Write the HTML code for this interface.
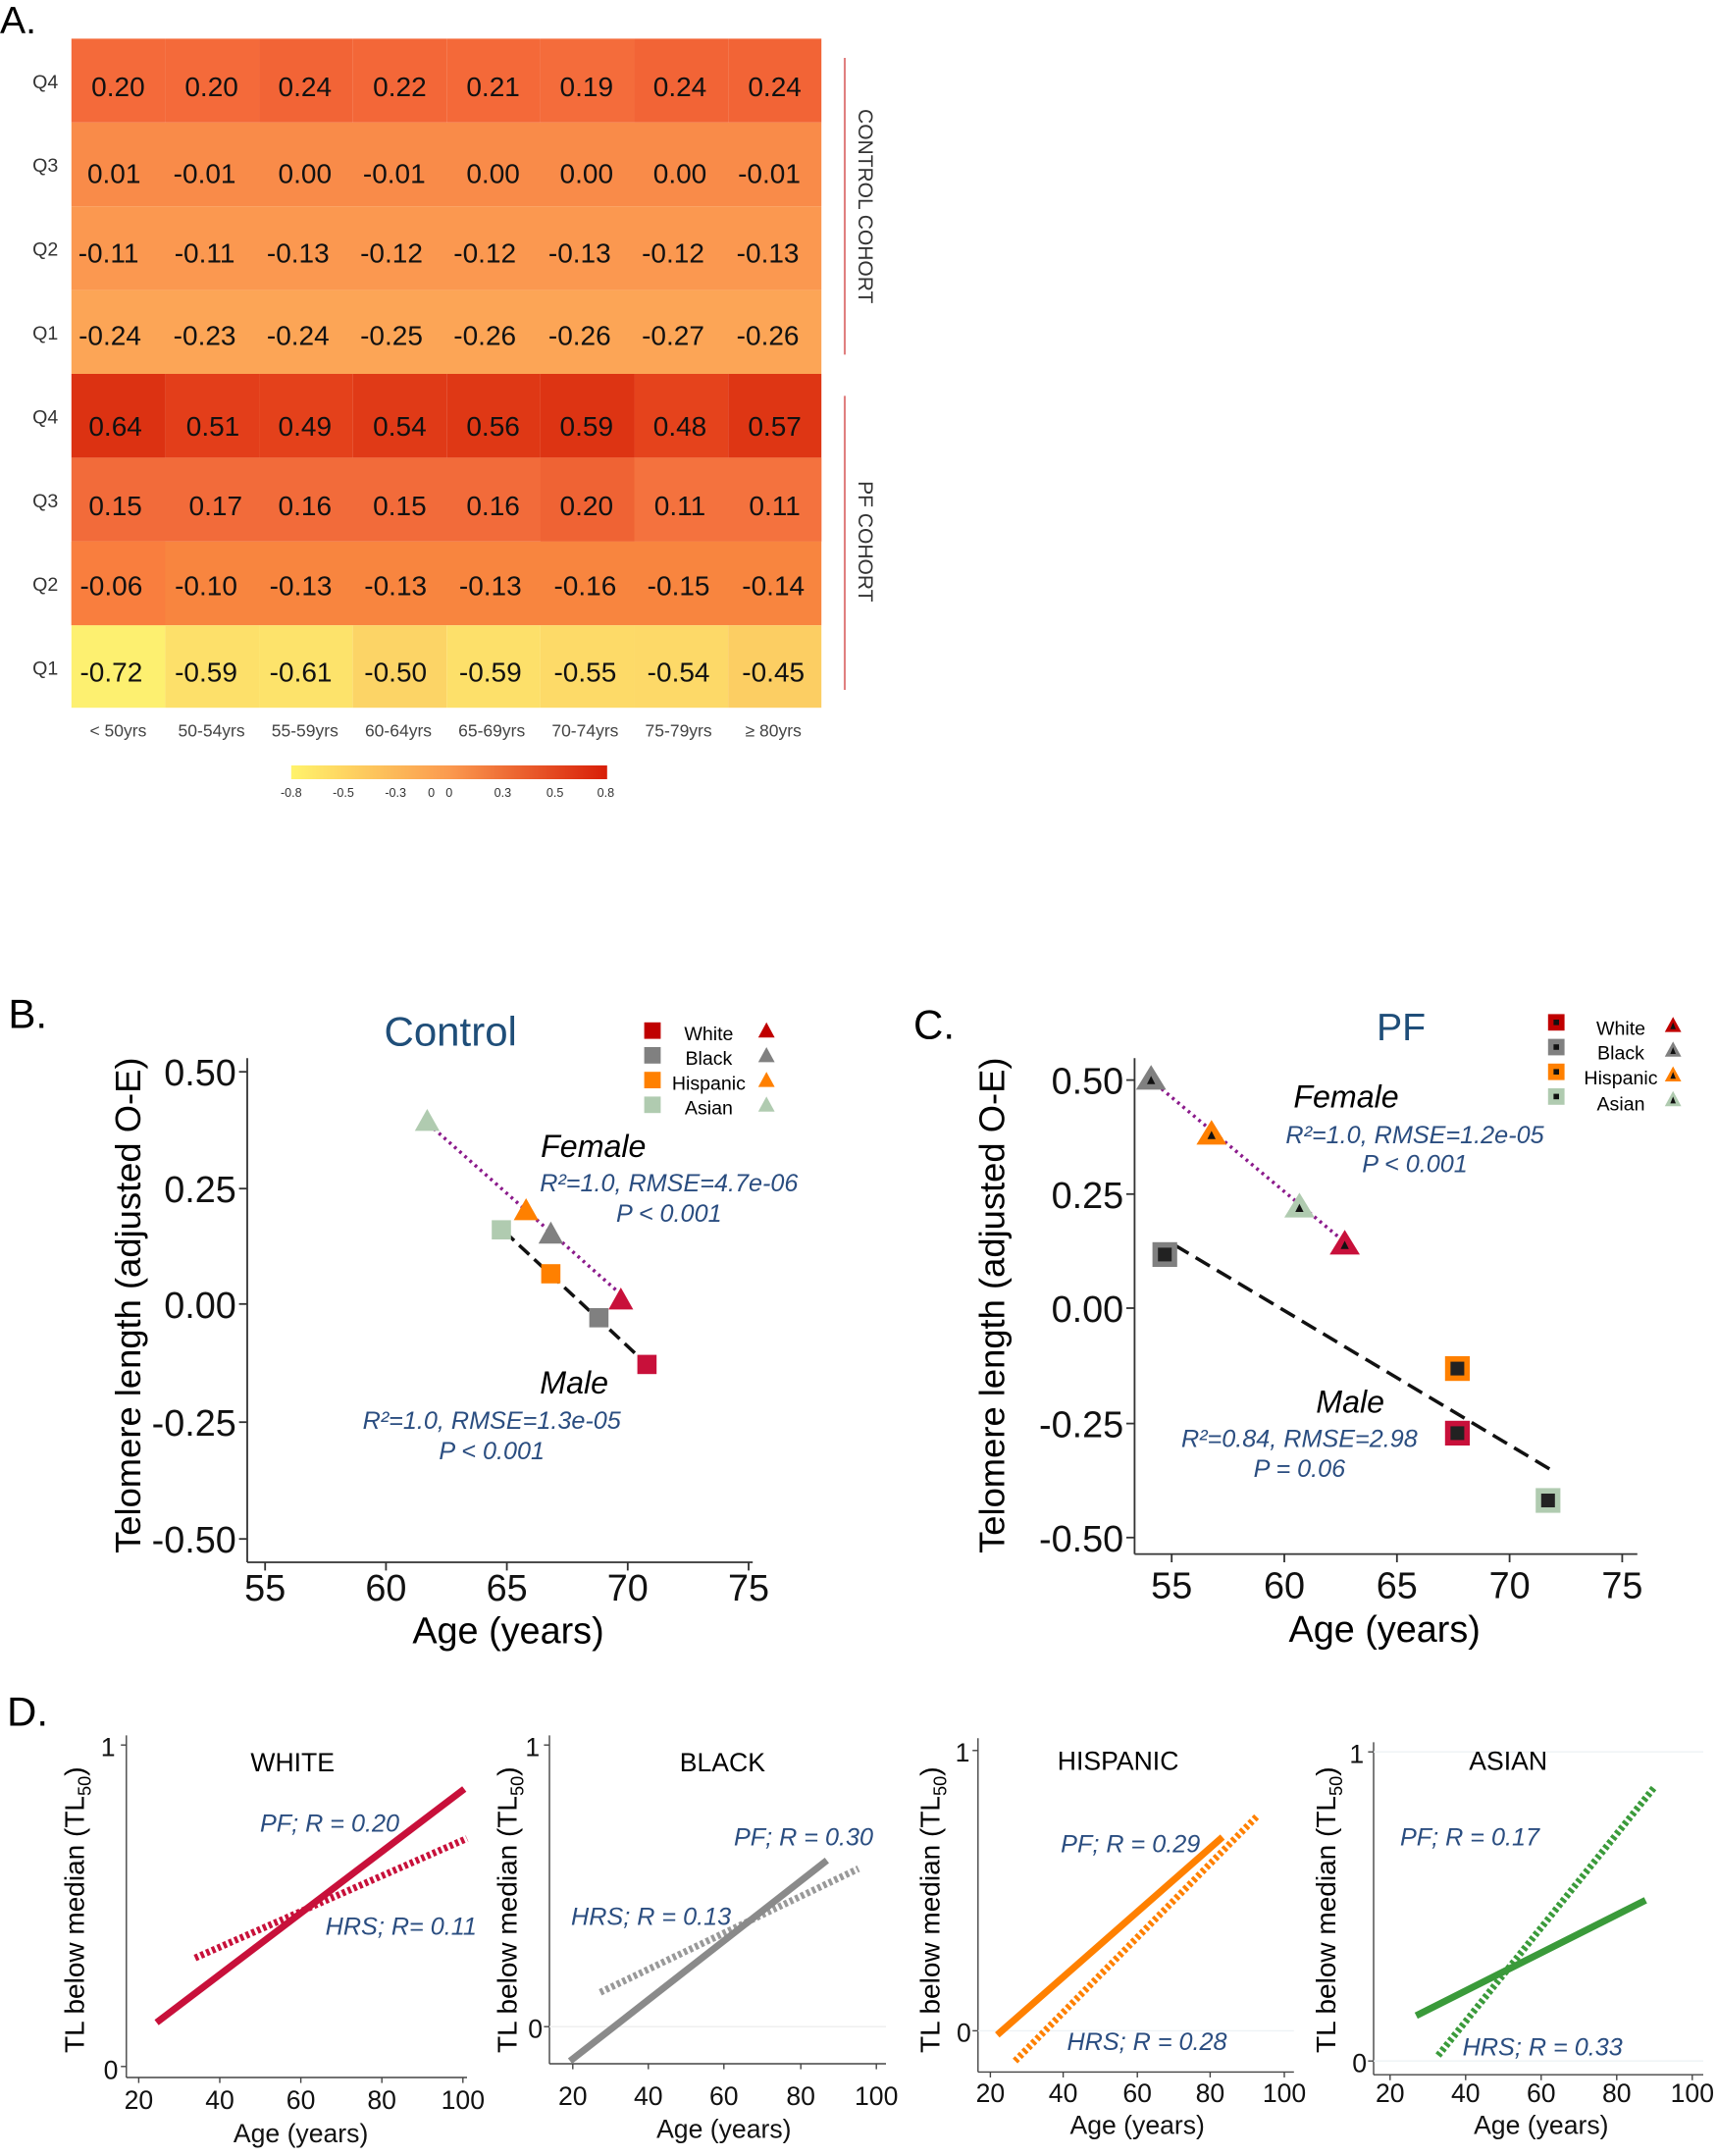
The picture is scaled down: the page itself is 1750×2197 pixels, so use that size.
<!DOCTYPE html>
<html><head><meta charset="utf-8"><style>
html,body{margin:0;padding:0;background:#fff}
svg{display:block}
text{font-family:"Liberation Sans",sans-serif}
.hm{font-size:20px;text-anchor:middle;fill:#111}
.tk{font-size:27px;text-anchor:end;fill:#111}
.tx{font-size:27px;text-anchor:middle;fill:#111}
.st{font-family:"Liberation Sans",sans-serif;font-style:italic;fill:#2a4d80;font-size:18px;text-anchor:middle}
.dt{font-size:19px;text-anchor:middle;fill:#111}
</style></head><body>
<svg width="1750" height="2197" viewBox="0 0 1250 1569" xmlns="http://www.w3.org/2000/svg">
<defs>
<linearGradient id="cb" x1="0" x2="1" y1="0" y2="0">
<stop offset="0" stop-color="#fff36b"/><stop offset="0.5" stop-color="#fb9a4f"/><stop offset="1" stop-color="#d81e08"/>
</linearGradient>
</defs>
<text x="0" y="24" font-size="28">A.</text>
<!-- heatmap rows: height 60.9 -->
<g>
<rect x="52" y="28" width="68.3" height="61" fill="#f46a3a"/><rect x="120.3" y="28" width="68.3" height="61" fill="#f46a3a"/><rect x="188.6" y="28" width="68.3" height="61" fill="#f26436"/><rect x="256.9" y="28" width="68.3" height="61" fill="#f36738"/><rect x="325.2" y="28" width="68.3" height="61" fill="#f46939"/><rect x="393.5" y="28" width="68.3" height="61" fill="#f46c3b"/><rect x="461.8" y="28" width="68.3" height="61" fill="#f26436"/><rect x="530.1" y="28" width="67.9" height="61" fill="#f26436"/>
<rect x="52" y="89" width="546" height="61" fill="#f98b49"/>
<rect x="52" y="150" width="546" height="61" fill="#fb9850"/>
<rect x="52" y="211" width="546" height="61" fill="#fca556"/>
<rect x="52" y="272" width="68.3" height="61" fill="#dc3212"/><rect x="120.3" y="272" width="68.3" height="61" fill="#e33e1a"/><rect x="188.6" y="272" width="68.3" height="61" fill="#e4411b"/><rect x="256.9" y="272" width="68.3" height="61" fill="#e03a17"/><rect x="325.2" y="272" width="68.3" height="61" fill="#df3815"/><rect x="393.5" y="272" width="68.3" height="61" fill="#dd3413"/><rect x="461.8" y="272" width="68.3" height="61" fill="#e5431c"/><rect x="530.1" y="272" width="67.9" height="61" fill="#de3614"/>
<rect x="52" y="333" width="546" height="61" fill="#f26b3a"/><rect x="393.5" y="333" width="68.3" height="61" fill="#ef6334"/><rect x="461.8" y="333" width="136.2" height="61" fill="#f4723e"/>
<rect x="52" y="394" width="546" height="61" fill="#f8853f"/><rect x="52" y="394" width="68.3" height="61" fill="#f97e3e"/>
<rect x="52" y="455" width="68.3" height="60" fill="#fdf070"/><rect x="120.3" y="455" width="68.3" height="60" fill="#fde06a"/><rect x="188.6" y="455" width="68.3" height="60" fill="#fde36b"/><rect x="256.9" y="455" width="68.3" height="60" fill="#fcd466"/><rect x="325.2" y="455" width="68.3" height="60" fill="#fde06a"/><rect x="393.5" y="455" width="68.3" height="60" fill="#fdda68"/><rect x="461.8" y="455" width="68.3" height="60" fill="#fdd968"/><rect x="530.1" y="455" width="67.9" height="60" fill="#fcce63"/>
</g>
<g font-size="14" fill="#333" text-anchor="middle">
<text x="33" y="64">Q4</text><text x="33" y="125">Q3</text><text x="33" y="186">Q2</text><text x="33" y="247">Q1</text>
<text x="33" y="308">Q4</text><text x="33" y="369">Q3</text><text x="33" y="430">Q2</text><text x="33" y="491">Q1</text>
</g>
<g class="hm">
<text x="86" y="70">0.20</text><text x="154" y="70">0.20</text><text x="222" y="70">0.24</text><text x="291" y="70">0.22</text><text x="359" y="70">0.21</text><text x="427" y="70">0.19</text><text x="495" y="70">0.24</text><text x="564" y="70">0.24</text>
<text x="83" y="133">0.01</text><text x="149" y="133">-0.01</text><text x="222" y="133">0.00</text><text x="287" y="133">-0.01</text><text x="359" y="133">0.00</text><text x="427" y="133">0.00</text><text x="495" y="133">0.00</text><text x="560" y="133">-0.01</text>
<text x="79" y="191">-0.11</text><text x="149" y="191">-0.11</text><text x="217" y="191">-0.13</text><text x="285" y="191">-0.12</text><text x="353" y="191">-0.12</text><text x="422" y="191">-0.13</text><text x="490" y="191">-0.12</text><text x="559" y="191">-0.13</text>
<text x="80" y="251">-0.24</text><text x="149" y="251">-0.23</text><text x="217" y="251">-0.24</text><text x="285" y="251">-0.25</text><text x="353" y="251">-0.26</text><text x="422" y="251">-0.26</text><text x="490" y="251">-0.27</text><text x="559" y="251">-0.26</text>
<text x="84" y="317">0.64</text><text x="155" y="317">0.51</text><text x="222" y="317">0.49</text><text x="291" y="317">0.54</text><text x="359" y="317">0.56</text><text x="427" y="317">0.59</text><text x="495" y="317">0.48</text><text x="564" y="317">0.57</text>
<text x="84" y="375">0.15</text><text x="157" y="375">0.17</text><text x="222" y="375">0.16</text><text x="291" y="375">0.15</text><text x="359" y="375">0.16</text><text x="427" y="375">0.20</text><text x="495" y="375">0.11</text><text x="564" y="375">0.11</text>
<text x="81" y="433">-0.06</text><text x="150" y="433">-0.10</text><text x="219" y="433">-0.13</text><text x="288" y="433">-0.13</text><text x="357" y="433">-0.13</text><text x="426" y="433">-0.16</text><text x="494" y="433">-0.15</text><text x="563" y="433">-0.14</text>
<text x="81" y="496">-0.72</text><text x="150" y="496">-0.59</text><text x="219" y="496">-0.61</text><text x="288" y="496">-0.50</text><text x="357" y="496">-0.59</text><text x="426" y="496">-0.55</text><text x="494" y="496">-0.54</text><text x="563" y="496">-0.45</text>
</g>
<line x1="615" y1="42" x2="615" y2="258" stroke="#e08080" stroke-width="1.5"/>
<line x1="615" y1="288" x2="615" y2="502" stroke="#e08080" stroke-width="1.5"/>
<text transform="translate(625,150) rotate(90)" font-size="15" fill="#333" text-anchor="middle">CONTROL COHORT</text>
<text transform="translate(625,394) rotate(90)" font-size="15" fill="#333" text-anchor="middle">PF COHORT</text>
<g font-size="12.5" fill="#444" text-anchor="middle">
<text x="86" y="536">&lt; 50yrs</text><text x="154" y="536">50-54yrs</text><text x="222" y="536">55-59yrs</text><text x="290" y="536">60-64yrs</text><text x="358" y="536">65-69yrs</text><text x="426" y="536">70-74yrs</text><text x="494" y="536">75-79yrs</text><text x="563" y="536">≥ 80yrs</text>
</g>
<rect x="212" y="557" width="230" height="10" fill="url(#cb)"/>
<g font-size="9" fill="#333" text-anchor="middle">
<text x="212" y="580">-0.8</text><text x="250" y="580">-0.5</text><text x="288" y="580">-0.3</text><text x="314" y="580">0</text><text x="327" y="580">0</text><text x="366" y="580">0.3</text><text x="404" y="580">0.5</text><text x="441" y="580">0.8</text>
</g>

<!-- Panel B -->
<text x="6" y="748" font-size="30">B.</text>
<text x="328" y="761" font-size="30" fill="#1f4e79" text-anchor="middle">Control</text>
<g stroke="#333" stroke-width="1.3" fill="none">
<line x1="180" y1="770" x2="180" y2="1137"/><line x1="180" y1="1137" x2="548" y2="1137"/>
<line x1="174" y1="780" x2="180" y2="780"/><line x1="174" y1="865" x2="180" y2="865"/><line x1="174" y1="949" x2="180" y2="949"/><line x1="174" y1="1035" x2="180" y2="1035"/><line x1="174" y1="1120" x2="180" y2="1120"/>
<line x1="193" y1="1137" x2="193" y2="1143"/><line x1="281" y1="1137" x2="281" y2="1143"/><line x1="369" y1="1137" x2="369" y2="1143"/><line x1="457" y1="1137" x2="457" y2="1143"/><line x1="545" y1="1137" x2="545" y2="1143"/>
</g>
<g class="tk"><text x="172" y="790">0.50</text><text x="172" y="875">0.25</text><text x="172" y="959">0.00</text><text x="172" y="1045">-0.25</text><text x="172" y="1130">-0.50</text></g>
<g class="tx"><text x="193" y="1165">55</text><text x="281" y="1165">60</text><text x="369" y="1165">65</text><text x="457" y="1165">70</text><text x="545" y="1165">75</text></g>
<text x="370" y="1196" font-size="27" text-anchor="middle">Age (years)</text>
<text transform="translate(102,950) rotate(-90)" font-size="26" text-anchor="middle">Telomere length (adjusted O-E)</text>
<line x1="312" y1="818" x2="452" y2="942" stroke="#8b1a8b" stroke-width="2.5" stroke-dasharray="2,3"/>
<line x1="367" y1="896" x2="470" y2="992" stroke="#111" stroke-width="2.5" stroke-dasharray="10,5"/>
<rect x="358" y="888" width="14" height="14" fill="#b0cbb0"/>
<rect x="394" y="920" width="14" height="14" fill="#ff8000"/>
<rect x="429" y="952" width="14" height="14" fill="#808080"/>
<rect x="464" y="986" width="14" height="14" fill="#c8103a"/>
<polygon points="311,807 302,823 320,823" fill="#b0cbb0"/>
<polygon points="383,872 374,888 392,888" fill="#ff8000"/>
<polygon points="401,889 392,905 410,905" fill="#808080"/>
<polygon points="452,937 443,953 461,953" fill="#c8103a"/>
<text x="432" y="842" font-size="23" font-style="italic" text-anchor="middle">Female</text>
<text class="st" x="487" y="867">R²=1.0, RMSE=4.7e-06</text>
<text class="st" x="487" y="889">P &lt; 0.001</text>
<text x="418" y="1014" font-size="23" font-style="italic" text-anchor="middle">Male</text>
<text class="st" x="358" y="1040">R²=1.0, RMSE=1.3e-05</text>
<text class="st" x="358" y="1062">P &lt; 0.001</text>
<g font-size="14" text-anchor="middle">
<rect x="469" y="744" width="12" height="12" fill="#c00000"/><text x="516" y="757">White</text><polygon points="558,744 552,755 564,755" fill="#c00000"/>
<rect x="469" y="762" width="12" height="12" fill="#808080"/><text x="516" y="775">Black</text><polygon points="558,762 552,773 564,773" fill="#808080"/>
<rect x="469" y="780" width="12" height="12" fill="#ff8000"/><text x="516" y="793">Hispanic</text><polygon points="558,780 552,791 564,791" fill="#ff8000"/>
<rect x="469" y="798" width="12" height="12" fill="#b0cbb0"/><text x="516" y="811">Asian</text><polygon points="558,798 552,809 564,809" fill="#b0cbb0"/>
</g>

<!-- Panel C -->
<text x="665" y="756" font-size="30">C.</text>
<text x="1020" y="757" font-size="28" fill="#1f4e79" text-anchor="middle">PF</text>
<g stroke="#333" stroke-width="1.3" fill="none">
<line x1="826" y1="770" x2="826" y2="1131"/><line x1="826" y1="1131" x2="1192" y2="1131"/>
<line x1="820" y1="786" x2="826" y2="786"/><line x1="820" y1="869" x2="826" y2="869"/><line x1="820" y1="952" x2="826" y2="952"/><line x1="820" y1="1036" x2="826" y2="1036"/><line x1="820" y1="1119" x2="826" y2="1119"/>
<line x1="853" y1="1131" x2="853" y2="1137"/><line x1="935" y1="1131" x2="935" y2="1137"/><line x1="1017" y1="1131" x2="1017" y2="1137"/><line x1="1099" y1="1131" x2="1099" y2="1137"/><line x1="1181" y1="1131" x2="1181" y2="1137"/>
</g>
<g class="tk"><text x="818" y="796">0.50</text><text x="818" y="879">0.25</text><text x="818" y="962">0.00</text><text x="818" y="1046">-0.25</text><text x="818" y="1129">-0.50</text></g>
<g class="tx"><text x="853" y="1163">55</text><text x="935" y="1163">60</text><text x="1017" y="1163">65</text><text x="1099" y="1163">70</text><text x="1181" y="1163">75</text></g>
<text x="1008" y="1195" font-size="27" text-anchor="middle">Age (years)</text>
<text transform="translate(731,950) rotate(-90)" font-size="26" text-anchor="middle">Telomere length (adjusted O-E)</text>
<line x1="838" y1="786" x2="979" y2="904" stroke="#8b1a8b" stroke-width="2.5" stroke-dasharray="2,3"/>
<line x1="855" y1="906" x2="1133" y2="1072" stroke="#111" stroke-width="2.5" stroke-dasharray="12,6"/>
<g>
<rect x="839" y="904" width="18" height="18" fill="#808080"/><rect x="843" y="908" width="10" height="10" fill="#222"/>
<rect x="1052" y="987" width="18" height="18" fill="#ff8000"/><rect x="1056" y="991" width="10" height="10" fill="#222"/>
<rect x="1052" y="1034" width="18" height="18" fill="#c8103a"/><rect x="1056" y="1038" width="10" height="10" fill="#222"/>
<rect x="1118" y="1083" width="18" height="18" fill="#b0cbb0"/><rect x="1122" y="1087" width="10" height="10" fill="#222"/>
<polygon points="838,775 827,793 849,793" fill="#808080"/><polygon points="838,783 835,789 841,789" fill="#111"/>
<polygon points="882,815 871,833 893,833" fill="#ff8000"/><polygon points="882,823 879,829 885,829" fill="#111"/>
<polygon points="946,868 935,886 957,886" fill="#b0cbb0"/><polygon points="946,876 943,882 949,882" fill="#111"/>
<polygon points="979,895 968,913 990,913" fill="#c8103a"/><polygon points="979,903 976,909 982,909" fill="#111"/>
</g>
<text x="980" y="806" font-size="23" font-style="italic" text-anchor="middle">Female</text>
<text class="st" x="1030" y="832">R²=1.0, RMSE=1.2e-05</text>
<text class="st" x="1030" y="853">P &lt; 0.001</text>
<text x="983" y="1028" font-size="23" font-style="italic" text-anchor="middle">Male</text>
<text class="st" x="946" y="1053">R²=0.84, RMSE=2.98</text>
<text class="st" x="946" y="1075">P = 0.06</text>
<g font-size="14" text-anchor="middle">
<rect x="1127" y="738" width="12" height="12" fill="#c00000"/><rect x="1131" y="742" width="4" height="4" fill="#111"/><text x="1180" y="753">White</text><polygon points="1218,740 1212,751 1224,751" fill="#c00000"/><polygon points="1218,744 1216,749 1220,749" fill="#111"/>
<rect x="1127" y="756" width="12" height="12" fill="#808080"/><rect x="1131" y="760" width="4" height="4" fill="#111"/><text x="1180" y="771">Black</text><polygon points="1218,758 1212,769 1224,769" fill="#808080"/><polygon points="1218,762 1216,767 1220,767" fill="#111"/>
<rect x="1127" y="774" width="12" height="12" fill="#ff8000"/><rect x="1131" y="778" width="4" height="4" fill="#111"/><text x="1180" y="789">Hispanic</text><polygon points="1218,776 1212,787 1224,787" fill="#ff8000"/><polygon points="1218,780 1216,785 1220,785" fill="#111"/>
<rect x="1127" y="792" width="12" height="12" fill="#b0cbb0"/><rect x="1131" y="796" width="4" height="4" fill="#111"/><text x="1180" y="808">Asian</text><polygon points="1218,794 1212,805 1224,805" fill="#b0cbb0"/><polygon points="1218,798 1216,803 1220,803" fill="#111"/>
</g>

<!-- Panel D -->
<text x="5" y="1256" font-size="30">D.</text>
<!-- WHITE -->
<g stroke="#444" stroke-width="1" fill="none">
<line x1="92" y1="1263" x2="92" y2="1512"/><line x1="92" y1="1512" x2="340" y2="1512"/>
<line x1="88" y1="1270" x2="92" y2="1270"/><line x1="88" y1="1504" x2="92" y2="1504"/>
<line x1="101" y1="1512" x2="101" y2="1516"/><line x1="160" y1="1512" x2="160" y2="1516"/><line x1="219" y1="1512" x2="219" y2="1516"/><line x1="278" y1="1512" x2="278" y2="1516"/><line x1="337" y1="1512" x2="337" y2="1516"/>
</g>
<text x="84" y="1278" class="dt" text-anchor="end" style="text-anchor:end">1</text><text x="86" y="1513" class="dt" style="text-anchor:end">0</text>
<g class="dt"><text x="101" y="1535">20</text><text x="160" y="1535">40</text><text x="219" y="1535">60</text><text x="278" y="1535">80</text><text x="337" y="1535">100</text></g>
<text x="219" y="1559" class="dt">Age (years)</text>
<text transform="translate(61,1390) rotate(-90)" font-size="20" text-anchor="middle">TL below median (TL<tspan font-size="13" dy="5">50</tspan><tspan dy="-5">)</tspan></text>
<text x="213" y="1289" font-size="19" text-anchor="middle">WHITE</text>
<line x1="142" y1="1425" x2="340" y2="1338" stroke="#c8103a" stroke-width="5" stroke-dasharray="2.5,2"/>
<line x1="114" y1="1472" x2="338" y2="1302" stroke="#c8103a" stroke-width="5"/>
<text class="st" x="240" y="1333">PF; R = 0.20</text>
<text class="st" x="292" y="1408">HRS; R= 0.11</text>
<!-- BLACK -->
<g stroke="#444" stroke-width="1" fill="none">
<line x1="400" y1="1263" x2="400" y2="1502"/><line x1="400" y1="1502" x2="645" y2="1502"/>
<line x1="396" y1="1270" x2="400" y2="1270"/><line x1="396" y1="1475" x2="400" y2="1475"/>
<line x1="417" y1="1502" x2="417" y2="1506"/><line x1="472" y1="1502" x2="472" y2="1506"/><line x1="527" y1="1502" x2="527" y2="1506"/><line x1="583" y1="1502" x2="583" y2="1506"/><line x1="638" y1="1502" x2="638" y2="1506"/>
</g>
<line x1="400" y1="1475" x2="645" y2="1475" stroke="#eee" stroke-width="1"/>
<text x="393" y="1278" class="dt" style="text-anchor:end">1</text><text x="395" y="1483" class="dt" style="text-anchor:end">0</text>
<g class="dt"><text x="417" y="1532">20</text><text x="472" y="1532">40</text><text x="527" y="1532">60</text><text x="583" y="1532">80</text><text x="638" y="1532">100</text></g>
<text x="527" y="1556" class="dt">Age (years)</text>
<text transform="translate(376,1390) rotate(-90)" font-size="20" text-anchor="middle">TL below median (TL<tspan font-size="13" dy="5">50</tspan><tspan dy="-5">)</tspan></text>
<text x="526" y="1289" font-size="19" text-anchor="middle">BLACK</text>
<line x1="437" y1="1450" x2="625" y2="1360" stroke="#999" stroke-width="5" stroke-dasharray="2.5,2"/>
<line x1="415" y1="1500" x2="602" y2="1354" stroke="#8a8a8a" stroke-width="5"/>
<text class="st" x="585" y="1343">PF; R = 0.30</text>
<text class="st" x="474" y="1401">HRS; R = 0.13</text>
<!-- HISPANIC -->
<g stroke="#444" stroke-width="1" fill="none">
<line x1="712" y1="1265" x2="712" y2="1508"/><line x1="712" y1="1508" x2="942" y2="1508"/>
<line x1="708" y1="1274" x2="712" y2="1274"/><line x1="708" y1="1478" x2="712" y2="1478"/>
<line x1="721" y1="1508" x2="721" y2="1512"/><line x1="774" y1="1508" x2="774" y2="1512"/><line x1="828" y1="1508" x2="828" y2="1512"/><line x1="881" y1="1508" x2="881" y2="1512"/><line x1="935" y1="1508" x2="935" y2="1512"/>
</g>
<line x1="712" y1="1478" x2="942" y2="1478" stroke="#eef2f5" stroke-width="1"/>
<text x="706" y="1282" class="dt" style="text-anchor:end">1</text><text x="707" y="1486" class="dt" style="text-anchor:end">0</text>
<g class="dt"><text x="721" y="1530">20</text><text x="774" y="1530">40</text><text x="828" y="1530">60</text><text x="881" y="1530">80</text><text x="935" y="1530">100</text></g>
<text x="828" y="1553" class="dt">Age (years)</text>
<text transform="translate(684,1390) rotate(-90)" font-size="20" text-anchor="middle">TL below median (TL<tspan font-size="13" dy="5">50</tspan><tspan dy="-5">)</tspan></text>
<text x="814" y="1288" font-size="19" text-anchor="middle">HISPANIC</text>
<line x1="739" y1="1500" x2="915" y2="1322" stroke="#ff8000" stroke-width="5" stroke-dasharray="2.5,2"/>
<line x1="726" y1="1481" x2="890" y2="1337" stroke="#ff8000" stroke-width="5"/>
<text class="st" x="823" y="1348">PF; R = 0.29</text>
<text class="st" x="835" y="1492">HRS; R = 0.28</text>
<!-- ASIAN -->
<g stroke="#444" stroke-width="1" fill="none">
<line x1="1000" y1="1268" x2="1000" y2="1510"/><line x1="1000" y1="1510" x2="1240" y2="1510"/>
<line x1="996" y1="1275" x2="1000" y2="1275"/><line x1="996" y1="1500" x2="1000" y2="1500"/>
<line x1="1012" y1="1510" x2="1012" y2="1514"/><line x1="1067" y1="1510" x2="1067" y2="1514"/><line x1="1122" y1="1510" x2="1122" y2="1514"/><line x1="1177" y1="1510" x2="1177" y2="1514"/><line x1="1232" y1="1510" x2="1232" y2="1514"/>
</g>
<line x1="1000" y1="1275" x2="1240" y2="1275" stroke="#eef2f5" stroke-width="1"/>
<line x1="1000" y1="1500" x2="1240" y2="1500" stroke="#eef2f5" stroke-width="1"/>
<text x="993" y="1283" class="dt" style="text-anchor:end">1</text><text x="995" y="1508" class="dt" style="text-anchor:end">0</text>
<g class="dt"><text x="1012" y="1530">20</text><text x="1067" y="1530">40</text><text x="1122" y="1530">60</text><text x="1177" y="1530">80</text><text x="1232" y="1530">100</text></g>
<text x="1122" y="1553" class="dt">Age (years)</text>
<text transform="translate(972,1390) rotate(-90)" font-size="20" text-anchor="middle">TL below median (TL<tspan font-size="13" dy="5">50</tspan><tspan dy="-5">)</tspan></text>
<text x="1098" y="1288" font-size="19" text-anchor="middle">ASIAN</text>
<line x1="1047" y1="1496" x2="1205" y2="1300" stroke="#3a9a3a" stroke-width="5" stroke-dasharray="2.5,2"/>
<line x1="1031" y1="1467" x2="1198" y2="1383" stroke="#3a9a3a" stroke-width="5"/>
<text class="st" x="1070" y="1343">PF; R = 0.17</text>
<text class="st" x="1123" y="1496">HRS; R = 0.33</text>
</svg>
</body></html>
